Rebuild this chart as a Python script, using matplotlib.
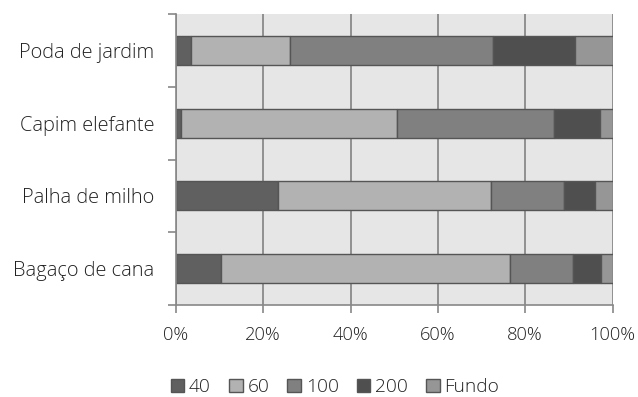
import matplotlib
matplotlib.use("Agg")
import matplotlib.pyplot as plt
import numpy as np
from matplotlib.ticker import FixedLocator, PercentFormatter

categories = ["Bagaço de cana", "Palha de milho", "Capim elefante", "Poda de jardim"]
series_names = ["40", "60", "100", "200", "Fundo"]
v40 = [10.2, 23.3, 1.1, 3.4]
v60 = [66.3, 48.9, 49.5, 22.7]
v100 = [14.4, 16.7, 36.0, 46.5]
v200 = [6.5, 7.2, 10.6, 18.9]
vfundo = [2.6, 3.9, 2.8, 8.5]
colors = ["#606060", "#b2b2b2", "#808080", "#4f4f4f", "#969696"]

plt.rcParams['font.family'] = ['Open Sans', 'DejaVu Sans']
plt.rcParams['font.weight'] = 300

fig = plt.figure(figsize=(6.38, 3.97), dpi=100)
ax = fig.add_axes([176/638, 1-305/397, (612.5-176)/638, (305-14)/397])
ax.set_facecolor("#e6e6e6")

y = np.arange(len(categories))
left = np.zeros(len(categories))
for name, vals, c in zip(series_names, [v40, v60, v100, v200, vfundo], colors):
    vals = np.array(vals)
    ax.barh(y, vals, left=left, height=0.4, color=c, edgecolor="#555555",
            linewidth=1.0, label=name, zorder=3)
    left += vals

ax.set_xlim(0, 100)
ax.set_ylim(-0.5, len(categories) - 0.5)
ax.set_xticks([0, 20, 40, 60, 80, 100])
ax.xaxis.set_major_formatter(PercentFormatter(decimals=0))
ax.set_yticks(y)
ax.set_yticklabels(categories)
ax.yaxis.set_minor_locator(FixedLocator(np.arange(-0.5, len(categories), 1.0)))
ax.tick_params(axis='y', which='major', length=0, pad=15.8, labelsize=14.4, colors="#222222")
ax.tick_params(axis='y', which='minor', length=6, width=1.2, color="#888888")
ax.tick_params(axis='x', which='major', length=6, width=1.2, color="#888888",
               labelsize=13.2, labelcolor="#222222", pad=9)

ax.grid(axis='x', color="#8a8a8a", linewidth=1.3, zorder=1)
ax.set_axisbelow(True)
for s in ["top", "right"]:
    ax.spines[s].set_visible(False)
for s in ["left", "bottom"]:
    ax.spines[s].set_color("#888888")
    ax.spines[s].set_linewidth(1.2)
ax.spines["left"].set_zorder(4)

leg = fig.legend(loc="center", bbox_to_anchor=(335/638, 1-387/397), ncol=5,
                 frameon=False, fontsize=13.8, handlelength=0.7, handleheight=0.7,
                 handletextpad=0.25, columnspacing=0.95)
for t in leg.get_texts():
    t.set_color("#222222")

fig.savefig("out.png", dpi=100)
